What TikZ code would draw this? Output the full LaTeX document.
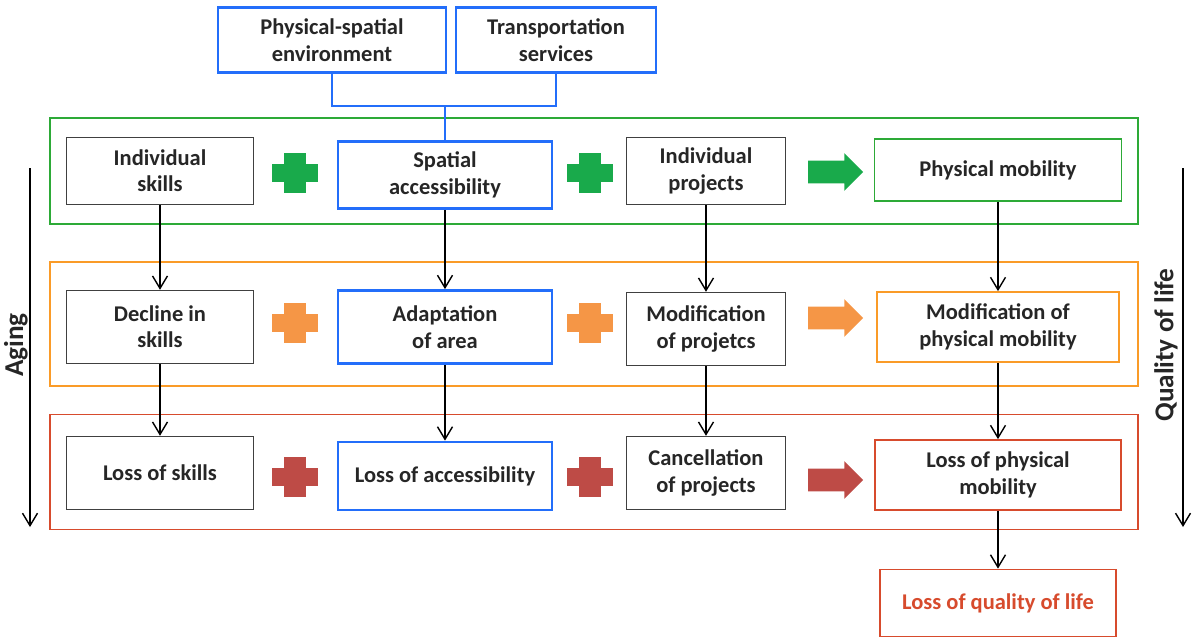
\documentclass[tikz,border=0pt]{standalone}
\usepackage{fontspec}
\setmainfont{Carlito}
\usetikzlibrary{arrows.meta,shapes.arrows}
\definecolor{boxblue}{RGB}{35,110,250}
\definecolor{bandgreen}{RGB}{45,170,55}
\definecolor{bandorange}{RGB}{250,155,40}
\definecolor{bandred}{RGB}{215,75,45}
\definecolor{signgreen}{RGB}{25,170,75}
\definecolor{signorange}{RGB}{245,150,70}
\definecolor{signred}{RGB}{190,75,70}
\tikzset{
  plain box/.style={draw=black!75,thick,fill=white,align=center,minimum height=67*0.02cm,text=black!85,font=\bfseries\fontsize{12.8}{15}\selectfont},
  blue box/.style={plain box,draw=boxblue,line width=1.6pt},
  band/.style={draw=#1,line width=1pt,minimum width=1088*0.02cm},
  flow/.style={->,>={Straight Barb[length=2.5mm,width=3mm]},thick,black},
  side label/.style={rotate=90,text=black!85,font=\bfseries\fontsize{15.5}{18}\selectfont},
  plussign/.pic={\fill[#1] (-11,-20) rectangle (11,20); \fill[#1] (-23,-9) rectangle (23,9);},
  bigarrow/.style={single arrow,fill=#1,draw=none,minimum height=55*0.02cm,inner xsep=0pt,inner ysep=0.22cm,single arrow head extend=0.15cm,single arrow tip angle=90}
}
\begin{document}
\begin{tikzpicture}[x=0.02cm,y=-0.02cm]
\useasboundingbox (0,0) rectangle (1196,642);
% bands
\node[band=bandgreen,minimum height=106*0.02cm] (b1) at (594,171) {};
\node[band=bandorange,minimum height=124*0.02cm] (b2) at (594,324) {};
\node[band=bandred,minimum height=115*0.02cm] (b3) at (594,472) {};
% top boxes
\node[blue box,minimum width=228*0.02cm,minimum height=65*0.02cm] (pse) at (332,40) {Physical-spatial\\environment};
\node[blue box,minimum width=200*0.02cm,minimum height=65*0.02cm] (ts) at (556,40) {Transportation\\services};
\coordinate (jn) at (445,106);
% row 1
\node[plain box,minimum width=187*0.02cm] (is) at (160,171) {Individual\\skills};
\node[blue box,minimum width=214*0.02cm] (sa) at (445,175) {Spatial\\accessibility};
\node[plain box,minimum width=159*0.02cm] (ip) at (706,171) {Individual\\projects};
\node[plain box,draw=bandgreen,line width=1pt,minimum width=247*0.02cm,minimum height=62*0.02cm] (pm) at (998,170) {Physical mobility};
% row 2
\node[plain box,minimum width=187*0.02cm,minimum height=73*0.02cm] (ds) at (160,327) {Decline in\\skills};
\node[blue box,minimum width=214*0.02cm,minimum height=73*0.02cm] (aa) at (445,327) {Adaptation\\of area};
\node[plain box,minimum width=159*0.02cm,minimum height=73*0.02cm] (mp) at (706,329) {Modification\\of projetcs};
\node[plain box,draw=bandorange,line width=1pt,minimum width=242*0.02cm,minimum height=70*0.02cm] (mm) at (998,327) {Modification of\\physical mobility};
% row 3
\node[plain box,minimum width=187*0.02cm,minimum height=73*0.02cm] (ls) at (160,473) {Loss of skills};
\node[blue box,minimum width=214*0.02cm,minimum height=68*0.02cm] (la) at (445,476) {Loss of accessibility};
\node[plain box,minimum width=159*0.02cm,minimum height=73*0.02cm] (cp) at (706,473) {Cancellation\\of projects};
\node[plain box,draw=bandred,line width=1pt,minimum width=246*0.02cm,minimum height=70*0.02cm] (lm) at (998,475) {Loss of physical\\mobility};
% result
\node[plain box,draw=bandred,line width=1pt,text=bandred,minimum width=236*0.02cm,minimum height=67*0.02cm] (lq) at (998,603) {Loss of quality of life};
% plus signs and arrows
\pic at (295,173) {plussign=signgreen};
\pic at (590,173) {plussign=signgreen};
\node[bigarrow=signgreen] (ar1) at (830,172) {};
\pic at (295,323) {plussign=signorange};
\pic at (590,323) {plussign=signorange};
\node[bigarrow=signorange] (ar2) at (830,318) {};
\pic at (295,477) {plussign=signred};
\pic at (590,477) {plussign=signred};
\node[bigarrow=signred] (ar3) at (830,480) {};
% top connectors
\draw[boxblue,thick] (pse.south) |- (jn) -| (ts.south);
\draw[boxblue,thick] (jn) -- (sa.north);
% flows
\draw[flow] (is) -- (ds);
\draw[flow] (ds) -- (ls);
\draw[flow] (sa) -- (aa);
\draw[flow] (aa) -- (la);
\draw[flow] (ip) -- (mp);
\draw[flow] (mp) -- (cp);
\draw[flow] (pm) -- (mm);
\draw[flow] (mm) -- (lm);
\draw[flow] (lm) -- (lq);
% side arrows
\coordinate (ag1) at (30,168);
\coordinate (ag2) at (30,527);
\draw[flow] (ag1) -- (ag2);
\node[side label] (aging) at (16,345) {Aging};
\coordinate (ql1) at (1183,168);
\coordinate (ql2) at (1183,527);
\draw[flow] (ql1) -- (ql2);
\node[side label] (qol) at (1166,345) {Quality of life};
\end{tikzpicture}
\end{document}
